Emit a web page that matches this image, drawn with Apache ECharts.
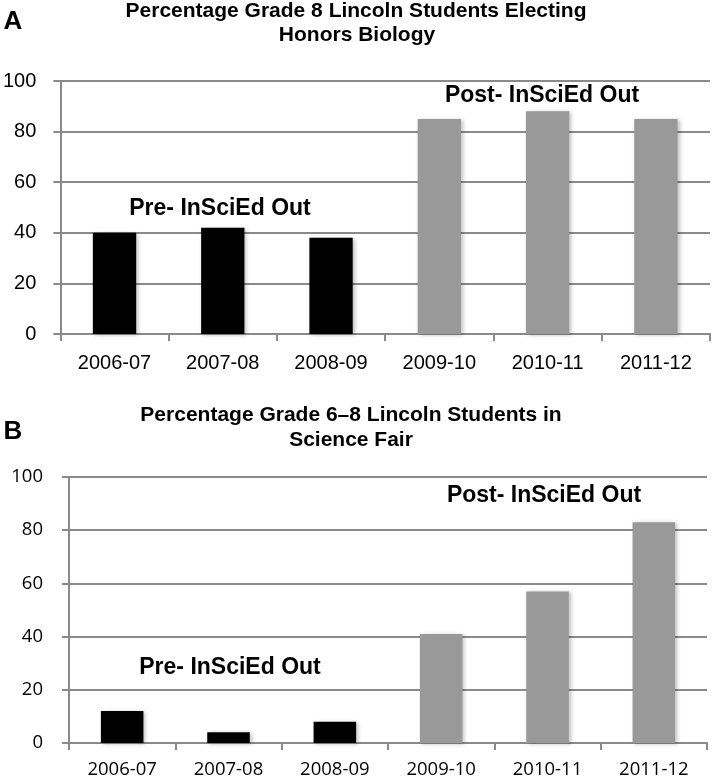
<!DOCTYPE html>
<html>
<head>
<meta charset="utf-8">
<script src="https://cdn.jsdelivr.net/npm/echarts/dist/echarts.min.js"></script>
<style>
html,body{margin:0;padding:0;background:#fff;}
#chart{width:714px;height:783px;}
</style>
</head>
<body>
<div id="chart"></div>
<script>
// ---- data ----
const categories = ['2006-07', '2007-08', '2008-09', '2009-10', '2010-11', '2011-12'];
const periods = ['pre', 'pre', 'pre', 'post', 'post', 'post'];
const honorsBiology = [40, 42, 38, 85, 88, 85];
const scienceFair = [12, 4, 8, 41, 57, 83];
const yTicks = [0, 20, 40, 60, 80, 100];
const titleA = ['Percentage Grade 8 Lincoln Students Electing', 'Honors Biology'];
const titleB = ['Percentage Grade 6\u20138 Lincoln Students in', 'Science Fair'];
const preLabel = 'Pre- InSciEd Out';
const postLabel = 'Post- InSciEd Out';

// ---- styling ----
const periodColor = { pre: '#000000', post: '#999999' };
const gridColor = '#8a8a8a';
const boldFont = '"Liberation Sans", Arial, sans-serif';

function barData(values) {
  return values.map((v, i) => ({ value: v, itemStyle: { color: periodColor[periods[i]] } }));
}

function xAxis(gridIndex, font, size, margin) {
  return {
    type: 'category', gridIndex, data: categories,
    axisLine: { lineStyle: { color: gridColor, width: 2 } },
    axisTick: { show: true, length: 7, lineStyle: { color: gridColor, width: 2 } },
    axisLabel: { fontFamily: font, fontSize: size, color: '#000', margin }
  };
}
function yAxis(gridIndex, font, size, margin) {
  return {
    type: 'value', gridIndex, min: yTicks[0], max: yTicks[yTicks.length - 1], interval: yTicks[1] - yTicks[0],
    axisLine: { show: true, lineStyle: { color: gridColor, width: 2 } },
    axisTick: { show: true, length: 7, lineStyle: { color: gridColor, width: 2 } },
    splitLine: { show: true, lineStyle: { color: gridColor, width: 2 } },
    axisLabel: { fontFamily: font, fontSize: size, color: '#000', margin }
  };
}
function txt(text, x, y, size, align) {
  return {
    type: 'text', silent: true,
    style: {
      text, x, y, fill: '#000',
      font: 'bold ' + size + 'px ' + boldFont,
      textAlign: align || 'center', textVerticalAlign: 'middle'
    }
  };
}

const barStyle = {
  shadowBlur: 4, shadowOffsetX: 2, shadowOffsetY: 1, shadowColor: 'rgba(0,0,0,0.25)'
};

const option = {
  animation: false,
  backgroundColor: '#fff',
  grid: [
    { left: 59, right: 4, top: 81, height: 253 },
    { left: 69, right: 7, top: 477, height: 266 }
  ],
  xAxis: [
    xAxis(0, boldFont, 20, 19),
    xAxis(1, '"Open Sans", sans-serif', 18.5, 17)
  ],
  yAxis: [
    yAxis(0, boldFont, 20, 24),
    yAxis(1, '"Open Sans", sans-serif', 18.5, 26)
  ],
  series: [
    { type: 'bar', xAxisIndex: 0, yAxisIndex: 0, barWidth: '40%', data: barData(honorsBiology), itemStyle: barStyle },
    { type: 'bar', xAxisIndex: 1, yAxisIndex: 1, barWidth: '40%', data: barData(scienceFair), itemStyle: barStyle }
  ],
  graphic: [
    txt('A', 13, 22, 26),
    txt(titleA[0], 356, 11, 21),
    txt(titleA[1], 357, 35, 21),
    txt(preLabel, 220, 209, 23),
    txt(postLabel, 542, 96, 23),
    txt('B', 13, 432, 26),
    txt(titleB[0], 351, 415, 21),
    txt(titleB[1], 351, 440, 21),
    txt(preLabel, 230, 668, 23),
    txt(postLabel, 544, 496, 23)
  ]
};

const chart = echarts.init(document.getElementById('chart'), null, { renderer: 'canvas' });
chart.setOption(option);
</script>
</body>
</html>
